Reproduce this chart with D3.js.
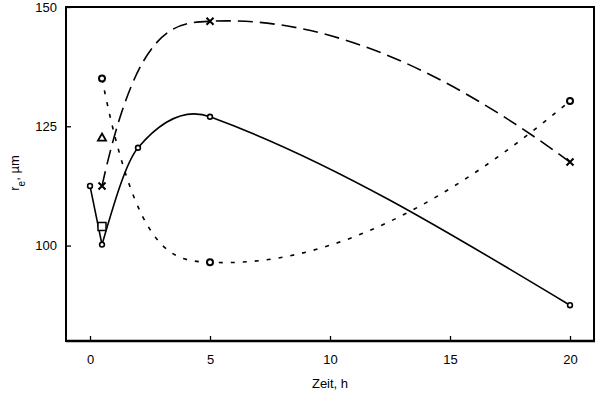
<!DOCTYPE html>
<html>
<head>
<meta charset="utf-8">
<script src="https://cdn.jsdelivr.net/npm/d3@7/dist/d3.min.js"></script>
<style>
  html, body { margin: 0; padding: 0; background: #fff; }
  svg { display: block; font-family: "Liberation Sans", Arial, sans-serif; }
  .tick-label { font-size: 13px; fill: #000; }
</style>
</head>
<body>
<svg id="chart" width="600" height="397"></svg>
<script>
// ── Data ─────────────────────────────────────────────────────────
const solidTime   = [0, 0.5, 2, 5, 20];
const solidRe     = [112.5, 100.2, 120.5, 127, 87.5];

const dashedTime  = [0.5, 5, 20];
const dashedRe    = [112.5, 147, 117.5];

const dottedTime  = [0.5, 5, 20];
const dottedRe    = [135, 96.5, 130.3];

const squarePoint   = [0.5, 104];
const trianglePoint = [0.5, 122.5];

const xTicks = [0, 5, 10, 15, 20];
const yTicks = [100, 125, 150];

// ── Layout ───────────────────────────────────────────────────────
const plotL = 66, plotR = 594, plotT = 7, plotB = 341;

const svg = d3.select('#chart');
const x = d3.scaleLinear().domain([-1, 21]).range([plotL, plotR]);
const y = d3.scaleLinear().domain([80, 150]).range([plotB, plotT]);

const zip = (a, b) => a.map((v, i) => [v, b[i]]);

// Hermite spline in y(x). Interior tangents from neighbouring chords,
// end tangents scaled by opts.start / opts.end.
const splineCurve = (opts) => (context) => {
    let xs, ys;
    return {
        areaStart() {}, areaEnd() {},
        lineStart() { xs = []; ys = []; },
        point(px, py) { xs.push(+px); ys.push(+py); },
        lineEnd() {
            const n = xs.length;
            const h = [], d = [];
            for (let i = 0; i < n - 1; i++) {
                h.push(xs[i + 1] - xs[i]);
                d.push((ys[i + 1] - ys[i]) / h[i]);
            }
            const m = new Array(n).fill(0);
            for (let i = 1; i < n - 1; i++) {
                m[i] = (ys[i + 1] - ys[i - 1]) / (xs[i + 1] - xs[i - 1]);
            }
            m[0] = opts.start * (3 * d[0] - (n > 2 ? m[1] : d[0])) / 2;
            m[n - 1] = opts.end * (3 * d[n - 2] - (n > 2 ? m[n - 2] : d[n - 2])) / 2;

            context.moveTo(xs[0], ys[0]);
            for (let i = 0; i < n - 1; i++) {
                const t = h[i] / 3;
                context.bezierCurveTo(xs[i] + t, ys[i] + m[i] * t,
                                      xs[i + 1] - t, ys[i + 1] - m[i + 1] * t,
                                      xs[i + 1], ys[i + 1]);
            }
        }
    };
};

const line = (curve) => d3.line().x(p => x(p[0])).y(p => y(p[1])).curve(curve);

// ── Frame & axes ─────────────────────────────────────────────────
svg.append('rect')
    .attr('x', plotL).attr('y', plotT)
    .attr('width', plotR - plotL).attr('height', plotB - plotT)
    .attr('fill', 'none').attr('stroke', '#000').attr('stroke-width', 1.3)
    .attr('shape-rendering', 'crispEdges');

svg.append('line')
    .attr('x1', plotL).attr('x2', plotR + 1)
    .attr('y1', plotB).attr('y2', plotB)
    .attr('stroke', '#000').attr('stroke-width', 2.5);

const xAxis = svg.append('g').attr('transform', `translate(0,${plotB})`)
    .call(d3.axisBottom(x).tickValues(xTicks).tickSizeInner(-5).tickSizeOuter(0).tickPadding(14));
xAxis.select('.domain').remove();
xAxis.selectAll('text').attr('class', 'tick-label').attr('font-size', null).attr('font-family', null);

const yAxis = svg.append('g').attr('transform', `translate(${plotL},0)`)
    .call(d3.axisLeft(y).tickValues(yTicks).tickSizeInner(-5).tickSizeOuter(0).tickPadding(9));
yAxis.select('.domain').remove();
yAxis.selectAll('text').attr('class', 'tick-label').attr('font-size', null).attr('font-family', null);
svg.selectAll('.tick line').attr('stroke-width', 1.3);

svg.append('text')
    .attr('class', 'tick-label')
    .attr('x', (x(0) + x(20)) / 2).attr('y', 388)
    .attr('text-anchor', 'middle')
    .text('Zeit, h');

const yTitle = svg.append('text')
    .attr('class', 'tick-label')
    .attr('transform', 'translate(19,173) rotate(-90)')
    .attr('text-anchor', 'middle');
yTitle.append('tspan').text('r');
yTitle.append('tspan').attr('baseline-shift', 'sub').attr('font-size', '10px').text('e');
yTitle.append('tspan').text(', µm');

// ── Curves ───────────────────────────────────────────────────────
const solidPts  = zip(solidTime, solidRe);
const dashedPts = zip(dashedTime, dashedRe);
const dottedPts = zip(dottedTime, dottedRe);

const curves = svg.append('g').attr('fill', 'none').attr('stroke', '#000').attr('stroke-width', 1.6);

curves.append('path').attr('d', line(d3.curveLinear)(solidPts.slice(0, 2)));
curves.append('path').attr('d', line(splineCurve({ start: 1, end: 1 }))(solidPts.slice(1)));
curves.append('path')
    .attr('d', line(splineCurve({ start: 2, end: 1.2 }))(dashedPts))
    .attr('stroke-dasharray', '15,7');
curves.append('path')
    .attr('d', line(splineCurve({ start: 2, end: 1.2 }))(dottedPts))
    .attr('stroke-dasharray', '4,8');

// ── Markers ──────────────────────────────────────────────────────
const marks = svg.append('g').attr('stroke', '#000').attr('fill', '#fff');

marks.selectAll('circle.solid').data(solidPts).join('circle')
    .attr('class', 'solid')
    .attr('cx', p => x(p[0])).attr('cy', p => y(p[1]))
    .attr('r', 2.4).attr('stroke-width', 1.6);

marks.selectAll('circle.dotted').data(dottedPts).join('circle')
    .attr('class', 'dotted')
    .attr('cx', p => x(p[0])).attr('cy', p => y(p[1]))
    .attr('r', 3).attr('stroke-width', 2);

marks.selectAll('path.cross').data(dashedPts).join('path')
    .attr('class', 'cross')
    .attr('d', p => {
        const cx = x(p[0]), cy = y(p[1]), s = 3.5;
        return `M${cx - s},${cy - s}L${cx + s},${cy + s}M${cx - s},${cy + s}L${cx + s},${cy - s}`;
    })
    .attr('stroke-width', 2);

marks.append('rect')
    .attr('x', x(squarePoint[0]) - 4).attr('y', y(squarePoint[1]) - 4)
    .attr('width', 8).attr('height', 8)
    .attr('stroke-width', 1.5);

marks.append('path')
    .attr('d', d3.symbol(d3.symbolTriangle, 28)())
    .attr('transform', `translate(${x(trianglePoint[0])},${y(trianglePoint[1])})`)
    .attr('stroke-width', 1.8);
</script>
</body>
</html>
